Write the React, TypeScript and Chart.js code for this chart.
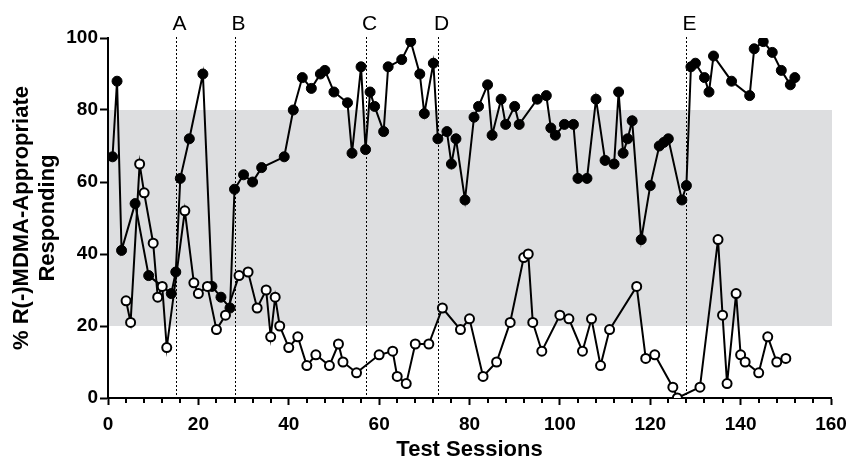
import React, { useEffect, useRef } from 'react';
import { Chart, registerables } from 'chart.js';

Chart.register(...registerables);

// R(-)MDMA sessions (filled circles)
const drugSessions = [1, 2, 3, 6, 9, 14, 15, 16, 18, 21, 23, 25, 27, 28, 30, 32, 34, 39, 41, 43, 45, 47, 48, 50, 53, 54, 56, 57, 58, 59, 61, 62, 65, 67, 69, 70, 72, 73, 75, 76, 77, 79, 81, 82, 84, 85, 87, 88, 90, 91, 95, 97, 98, 99, 101, 103, 104, 106, 108, 110, 112, 113, 114, 115, 116, 118, 120, 122, 123, 124, 127, 128, 129, 130, 132, 133, 134, 138, 142, 143, 145, 147, 149, 151, 152];
const drugValues = [67, 88, 41, 54, 34, 29, 35, 61, 72, 90, 31, 28, 25, 58, 62, 60, 64, 67, 80, 89, 86, 90, 91, 85, 82, 68, 92, 69, 85, 81, 74, 92, 94, 99, 90, 79, 93, 72, 74, 65, 72, 55, 78, 81, 87, 73, 83, 76, 81, 76, 83, 84, 75, 73, 76, 76, 61, 61, 83, 66, 65, 85, 68, 72, 77, 44, 59, 70, 71, 72, 55, 59, 92, 93, 89, 85, 95, 88, 84, 97, 99, 96, 91, 87, 89];

// Vehicle sessions (open circles)
const vehicleSessions = [4, 5, 7, 8, 10, 11, 12, 13, 17, 19, 20, 22, 24, 26, 29, 31, 33, 35, 36, 37, 38, 40, 42, 44, 46, 49, 51, 52, 55, 60, 63, 64, 66, 68, 71, 74, 78, 80, 83, 86, 89, 92, 93, 94, 96, 100, 102, 105, 107, 109, 111, 117, 119, 121, 125, 126, 131, 135, 136, 137, 139, 140, 141, 144, 146, 148, 150];
const vehicleValues = [27, 21, 65, 57, 43, 28, 31, 14, 52, 32, 29, 31, 19, 23, 34, 35, 25, 30, 17, 28, 20, 14, 17, 9, 12, 9, 15, 10, 7, 12, 13, 6, 4, 15, 15, 25, 19, 22, 6, 10, 21, 39, 40, 21, 13, 23, 22, 13, 22, 9, 19, 31, 11, 12, 3, 0, 3, 44, 23, 4, 29, 12, 10, 7, 17, 10, 11];

const phaseSessions = [15, 28, 57, 73, 128];
const phaseLabels = ['A', 'B', 'C', 'D', 'E'];
const bandRange = [20, 80];
const xRange = [0, 160];
const yRange = [0, 100];

const FONT = 'Arial, "Liberation Sans", Helvetica, sans-serif';

const overlayPlugin = {
  id: 'overlay',
  beforeDraw(chart: any) {
    const { ctx, chartArea, scales } = chart;
    const x = scales.x;
    const y = scales.y;
    ctx.save();
    const yTop = y.getPixelForValue(bandRange[1]);
    const yBot = y.getPixelForValue(bandRange[0]);
    ctx.fillStyle = '#dddee0';
    ctx.fillRect(chartArea.left, yTop, chartArea.right - chartArea.left + 1, yBot - yTop);

    ctx.strokeStyle = '#000';
    ctx.lineWidth = 1;
    ctx.setLineDash([2, 2]);
    ctx.fillStyle = '#000';
    ctx.font = `21px ${FONT}`;
    ctx.textAlign = 'center';
    ctx.textBaseline = 'alphabetic';
    phaseSessions.forEach((s, i) => {
      const px = Math.round(x.getPixelForValue(s)) + 0.5;
      ctx.beginPath();
      ctx.moveTo(px, chartArea.top - 1);
      ctx.lineTo(px, chartArea.bottom);
      ctx.stroke();
      ctx.fillText(phaseLabels[i], px + 3, 30);
    });
    ctx.restore();
  },
  afterDraw(chart: any) {
    // minor x ticks
    const { ctx, chartArea, scales } = chart;
    const x = scales.x;
    ctx.save();
    ctx.strokeStyle = '#000';
    ctx.lineWidth = 2;
    x.ticks.forEach((t: any) => {
      if (t.value % 20 !== 0) {
        const px = Math.round(x.getPixelForValue(t.value));
        ctx.beginPath();
        ctx.moveTo(px, chartArea.bottom);
        ctx.lineTo(px, chartArea.bottom + 5);
        ctx.stroke();
      }
    });
    ctx.restore();
  },
};

export default function App() {
  const ref = useRef<HTMLCanvasElement | null>(null);

  useEffect(() => {
    document.body.style.margin = '0';
    if (!ref.current) return;
    const chart = new Chart(ref.current, {
      type: 'line',
      data: {
        datasets: [
          {
            label: 'Vehicle',
            data: vehicleSessions.map((s, i) => ({ x: s, y: vehicleValues[i] })),
            borderColor: '#000',
            borderWidth: 2,
            pointRadius: 4.5,
            pointBorderWidth: 2,
            pointBackgroundColor: '#fff',
            pointBorderColor: '#000',
            tension: 0,
            fill: false,
          },
          {
            label: 'R(-)MDMA',
            data: drugSessions.map((s, i) => ({ x: s, y: drugValues[i] })),
            borderColor: '#000',
            borderWidth: 2,
            pointRadius: 5,
            pointBorderWidth: 1,
            pointBackgroundColor: '#000',
            pointBorderColor: '#000',
            tension: 0,
            fill: false,
          },
        ],
      },
      options: {
        responsive: false,
        animation: false,
        devicePixelRatio: 1,
        layout: { padding: { left: 0, right: 19, top: 38, bottom: 0 } },
        plugins: { legend: { display: false }, tooltip: { enabled: false } },
        scales: {
          x: {
            type: 'linear',
            min: xRange[0],
            max: xRange[1],
            afterFit: (s: any) => { s.height = 63; s.paddingLeft = 0; s.paddingRight = 0; },
            border: { display: true, color: '#000', width: 2 },
            grid: {
              display: true,
              drawOnChartArea: false,
              drawTicks: true,
              tickLength: 7,
              tickWidth: 2,
              tickColor: (c: any) => (c.tick && c.tick.value % 20 === 0 ? '#000' : 'rgba(0,0,0,0)'),
            },
            ticks: {
              stepSize: 4,
              autoSkip: false,
              maxRotation: 0,
              padding: 8,
              color: '#000',
              font: { family: FONT, size: 19, weight: 'bold' },
              callback: (v: any) => (Number(v) % 20 === 0 ? String(v) : ''),
            },
            title: {
              display: true,
              text: 'Test Sessions',
              color: '#000',
              font: { family: FONT, size: 22, weight: 'bold', lineHeight: 1.0 },
              padding: { top: 0, bottom: 0 },
            },
          },
          y: {
            type: 'linear',
            min: yRange[0],
            max: yRange[1],
            afterFit: (s: any) => { s.width = 108; s.paddingTop = 0; s.paddingBottom = 0; },
            border: { display: true, color: '#000', width: 2 },
            grid: {
              display: true,
              drawOnChartArea: false,
              drawTicks: true,
              tickLength: 8,
              tickWidth: 2,
              tickColor: '#000',
            },
            ticks: {
              stepSize: 20,
              padding: 2,
              color: '#000',
              font: { family: FONT, size: 19, weight: 'bold' },
            },
            title: {
              display: true,
              text: ['% R(-)MDMA-Appropriate', 'Responding'],
              color: '#000',
              font: { family: FONT, size: 22, weight: 'bold', lineHeight: 1.18 },
              padding: { top: 9, bottom: 0 },
            },
          },
        },
      },
      plugins: [overlayPlugin],
    });
    return () => chart.destroy();
  }, []);

  return (
    <div style={{ width: 850, height: 461 }}>
      <canvas ref={ref} width={850} height={461} style={{ display: 'block' }} />
    </div>
  );
}
